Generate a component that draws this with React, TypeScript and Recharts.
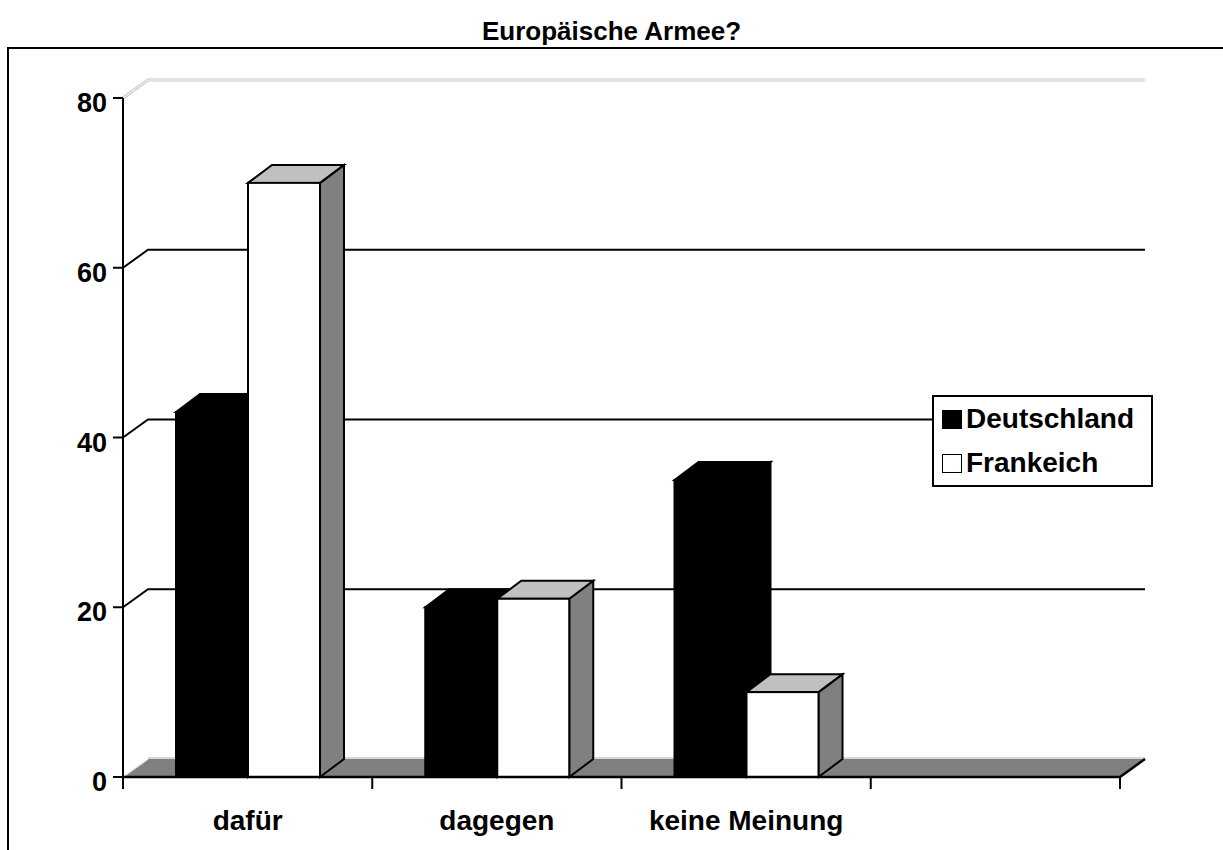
import React from "react";
import { BarChart, Bar, XAxis, YAxis, CartesianGrid, Legend } from "recharts";

const title = "Europäische Armee?";
const categories = ["dafür", "dagegen", "keine Meinung", ""];
const deutschland = [43, 20, 35, null];
const frankreich = [70, 21, 10, null];
const seriesNames = ["Deutschland", "Frankeich"];
const yTicks = [0, 20, 40, 60, 80];

const data = categories.map((c, i) => ({
  cat: c,
  de: deutschland[i],
  fr: frankreich[i],
}));

const FONT = "'Liberation Sans', Arial, Helvetica, sans-serif";
const WALL_DX = 25;
const WALL_DY = 18;
const BAR_DX = 24;
const BAR_DY = 18;

function makeBox(front: string, top: string, side: string, stroke: string) {
  return (props: any) => {
    const { x, y, width, height } = props;
    if (x == null || y == null || !isFinite(height) || height <= 0) return <g />;
    const pTop = `M${x},${y} L${x + BAR_DX},${y - BAR_DY} L${x + width + BAR_DX},${y - BAR_DY} L${x + width},${y} Z`;
    const pSide = `M${x + width},${y} L${x + width + BAR_DX},${y - BAR_DY} L${x + width + BAR_DX},${y + height - BAR_DY} L${x + width},${y + height} Z`;
    return (
      <g>
        <path d={pSide} fill={side} stroke={stroke} strokeWidth={2} strokeLinejoin="miter" />
        <path d={pTop} fill={top} stroke={stroke} strokeWidth={2} strokeLinejoin="miter" />
        <rect x={x} y={y} width={width} height={height} fill={front} stroke={stroke} strokeWidth={2} />
      </g>
    );
  };
}

const DeBox = makeBox("#000", "#000", "#000", "#000");
const FrBox = makeBox("#fff", "#c0c0c0", "#808080", "#000");

function GridLine(props: any) {
  const { x1, y1, x2, index, y, height } = props;
  let isFloor = false;
  let isTop = false;
  if (typeof y === "number" && typeof height === "number") {
    isFloor = Math.abs(y1 - (y + height)) < 1;
    isTop = Math.abs(y1 - y) < 1;
  } else {
    isFloor = index === 0;
    isTop = index === yTicks.length - 1;
  }
  if (isFloor) {
    const d = `M${x1},${y1} L${x1 + WALL_DX},${y1 - WALL_DY} L${x2 + WALL_DX},${y1 - WALL_DY} L${x2},${y1} Z`;
    return (
      <g key={`g${index}`}>
        <path d={d} fill="#808080" stroke="none" />
        <line x1={x1 + WALL_DX} y1={y1 - WALL_DY - 1} x2={x2 + WALL_DX} y2={y1 - WALL_DY - 1} stroke="#c8c8c8" strokeWidth={1.5} />
        <line x1={x1} y1={y1} x2={x1 + WALL_DX} y2={y1 - WALL_DY} stroke="#e8e8e8" strokeWidth={1.5} />
        <line x1={x2} y1={y1} x2={x2 + WALL_DX} y2={y1 - WALL_DY} stroke="#000" strokeWidth={2.5} />
      </g>
    );
  }
  if (isTop) {
    return (
      <g key={`g${index}`}>
        <polyline
          points={`${x1},${y1} ${x1 + WALL_DX},${y1 - WALL_DY} ${x2 + WALL_DX},${y1 - WALL_DY}`}
          fill="none"
          stroke="#c8c8c8"
          strokeWidth={3}
        />
        <polyline
          points={`${x1},${y1} ${x1 + WALL_DX},${y1 - WALL_DY} ${x2 + WALL_DX},${y1 - WALL_DY}`}
          fill="none"
          stroke="#fff"
          strokeWidth={1}
        />
      </g>
    );
  }
  return (
    <polyline
      key={`g${index}`}
      points={`${x1},${y1} ${x1 + WALL_DX},${y1 - WALL_DY} ${x2 + WALL_DX},${y1 - WALL_DY}`}
      fill="none"
      stroke="#000"
      strokeWidth={2}
    />
  );
}

function XTick(props: any) {
  const { x, y, payload, index, width, visibleTicksCount } = props;
  const n = visibleTicksCount || categories.length;
  const bw = (width || 997) / n;
  const left = x - bw / 2;
  return (
    <g>
      <line x1={left} y1={y} x2={left} y2={y + 12} stroke="#000" strokeWidth={2} />
      {index === n - 1 && (
        <line x1={left + bw} y1={y} x2={left + bw} y2={y + 12} stroke="#000" strokeWidth={2} />
      )}
      <text
        x={x}
        y={y + 53}
        textAnchor="middle"
        fontFamily={FONT}
        fontWeight="bold"
        fontSize={28}
        fill="#000"
      >
        {payload.value}
      </text>
    </g>
  );
}

function YTick(props: any) {
  const { x, y, payload } = props;
  return (
    <text
      x={x}
      y={y + 14}
      textAnchor="end"
      fontFamily={FONT}
      fontWeight="bold"
      fontSize={27}
      fill="#000"
    >
      {payload.value}
    </text>
  );
}

function LegendBox(props: any) {
  const payload = props.payload || [];
  return (
    <div
      style={{
        width: 221,
        height: 92,
        boxSizing: "border-box",
        border: "2px solid #000",
        background: "#fff",
        paddingTop: 0,
      }}
    >
      {payload.map((entry: any, i: number) => {
        const isDark = entry.color === "#000";
        return (
          <div
            key={i}
            style={{
              display: "flex",
              alignItems: "center",
              height: 44,
              paddingLeft: 8,
            }}
          >
            <div
              style={{
                width: 20,
                height: 19,
                boxSizing: "border-box",
                background: isDark ? "#000" : "#fff",
                border: "1.5px solid #000",
                marginRight: 4,
              }}
            />
            <span
              style={{
                fontFamily: FONT,
                fontWeight: "bold",
                fontSize: 28,
                color: "#000",
                lineHeight: "30px",
              }}
            >
              {entry.value}
            </span>
          </div>
        );
      })}
    </div>
  );
}

export default function App() {
  return (
    <div
      style={{
        position: "absolute",
        left: 0,
        top: 0,
        width: 1223,
        height: 850,
        overflow: "hidden",
        background: "#fff",
      }}
    >
      <div
        style={{
          position: "absolute",
          left: 7,
          top: 47,
          width: 3000,
          height: 3000,
          borderLeft: "2px solid #000",
          borderTop: "2px solid #000",
        }}
      />
      <div
        style={{
          position: "absolute",
          left: 0,
          top: 18,
          width: 1223,
          textAlign: "center",
          fontFamily: FONT,
          fontWeight: "bold",
          fontSize: 26,
          lineHeight: "26px",
          color: "#000",
        }}
      >
        {title}
      </div>
      <div style={{ position: "absolute", left: 0, top: 0 }}>
        <BarChart
          width={1223}
          height={850}
          data={data}
          margin={{ top: 98, right: 103, bottom: 0, left: 23 }}
          barSize={72}
          barGap={0}
        >
          <CartesianGrid vertical={false} horizontal={GridLine as any} />
          <XAxis
            dataKey="cat"
            height={73}
            interval={0}
            tickSize={0}
            tickMargin={0}
            tickLine={false}
            axisLine={{ stroke: "#000", strokeWidth: 2.5 }}
            tick={<XTick />}
          />
          <YAxis
            width={100}
            domain={[0, 80]}
            ticks={yTicks}
            interval={0}
            tickSize={10}
            tickMargin={6}
            tickLine={{ stroke: "#000", strokeWidth: 2 }}
            axisLine={{ stroke: "#000", strokeWidth: 2 }}
            tick={<YTick />}
          />
          <Legend
            layout="vertical"
            align="center"
            verticalAlign="middle"
            wrapperStyle={{ left: 932, top: 395, width: 221, height: 92 }}
            content={<LegendBox />}
          />
          <Bar
            dataKey="de"
            name={seriesNames[0]}
            fill="#000"
            isAnimationActive={false}
            shape={DeBox}
          />
          <Bar
            dataKey="fr"
            name={seriesNames[1]}
            fill="#fff"
            isAnimationActive={false}
            shape={FrBox}
          />
        </BarChart>
      </div>
    </div>
  );
}
